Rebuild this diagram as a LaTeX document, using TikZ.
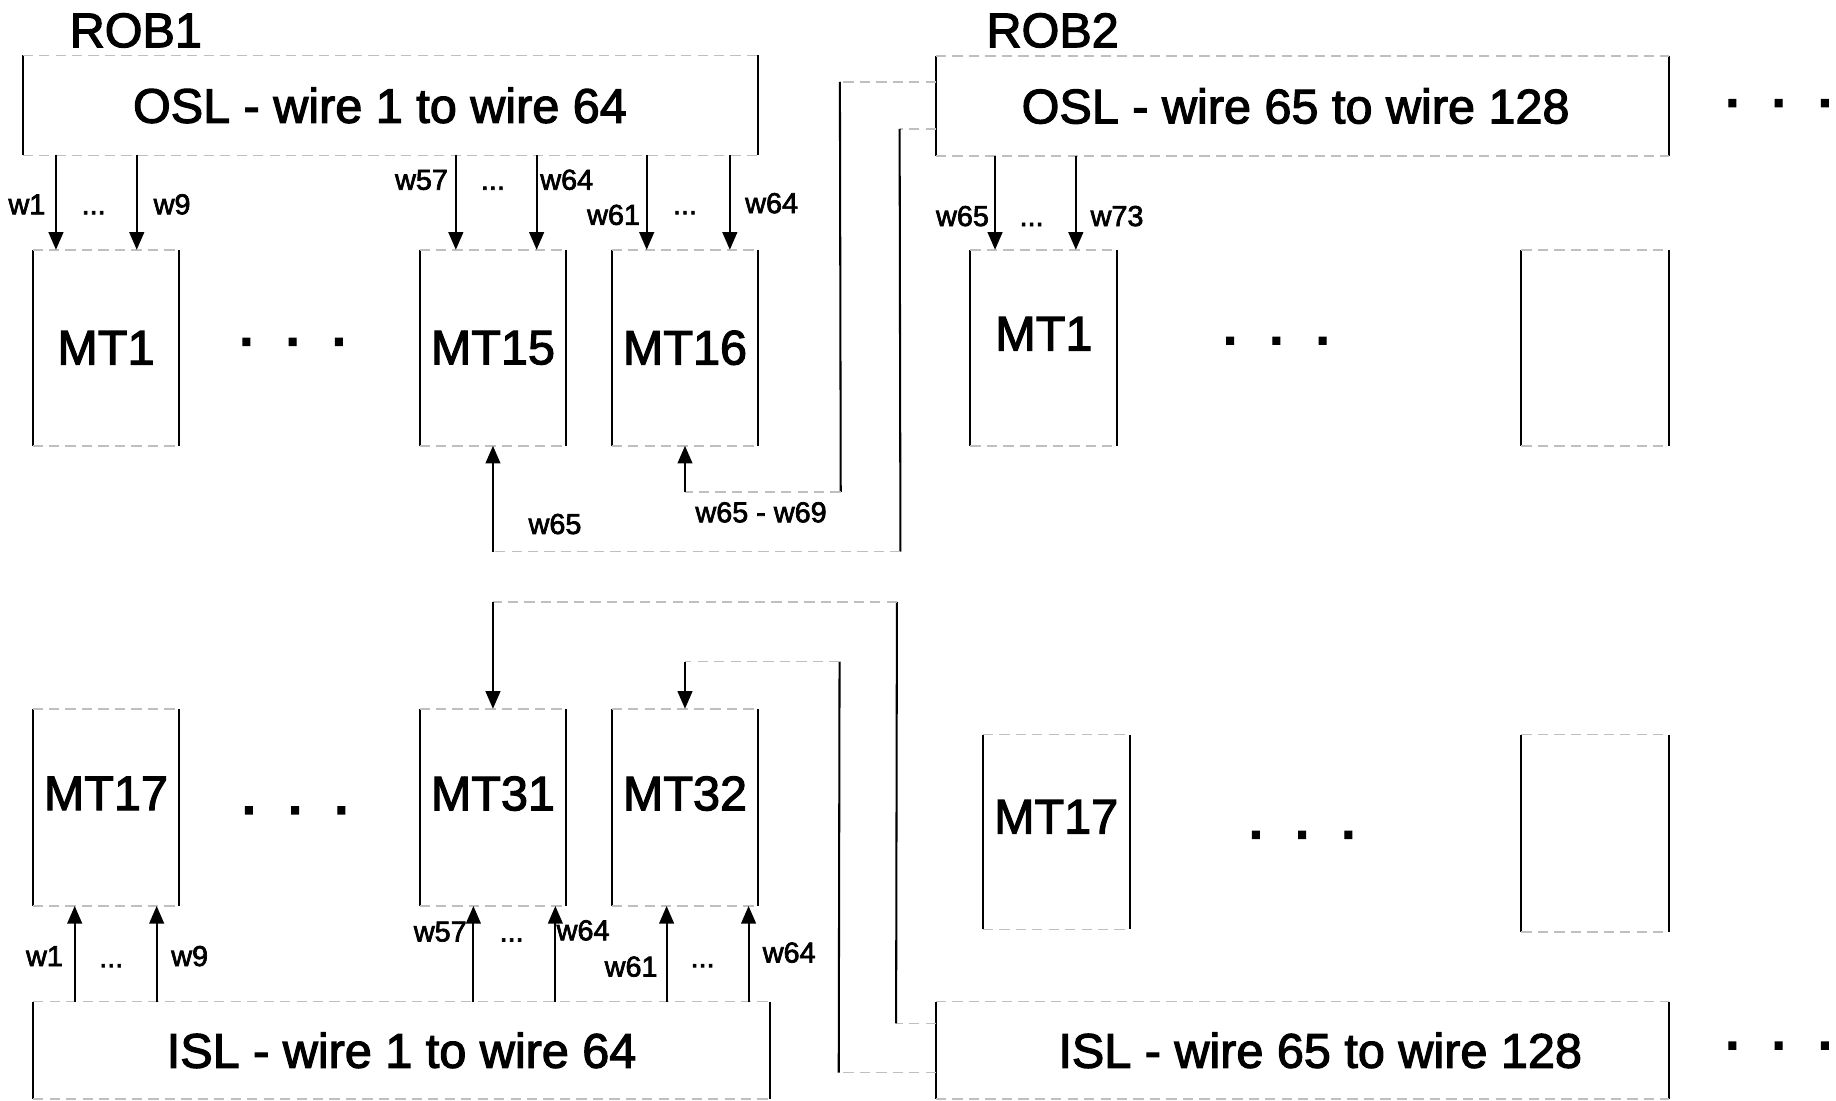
\documentclass[tikz,border=0pt]{standalone}
\usepackage{fontspec}
\setmainfont{Liberation Sans}
\newfontfamily\heavyfont{Liberation Sans}[FakeBold=2.4]
\usetikzlibrary{arrows.meta,calc}
\newcommand\bigf{\heavyfont\fontsize{11.8}{14}\selectfont}
\newcommand\smallf{\heavyfont\fontsize{7}{8.4}\selectfont}
\begin{document}
\begin{tikzpicture}[
  side/.style={draw=black, line width=0.5pt},
  faint/.style={draw=black!25, line width=0.4pt, dash pattern=on 2.5pt off 1.5pt},
  arr/.style={draw=black, line width=0.5pt, -{Triangle[length=1.5mm,width=1.25mm]}},
  mtbox/.style={rectangle, inner sep=0pt, minimum width=1.24cm, minimum height=1.66cm, font=\bigf},
  slbox/.style={rectangle, inner sep=0pt, minimum height=0.84cm, font=\bigf},
  big/.style={font=\bigf, inner sep=0pt},
  lbl/.style={font=\smallf, inner sep=0pt, anchor=base},
  dotsn/.style={font=\bigf\bfseries, inner sep=0pt}
]
\useasboundingbox (0,0) rectangle (15.68,-9.40);

% titles
\node[big] (rob1) at (1.16,-0.26) {ROB1};
\node[big] (rob2) at (8.99,-0.26) {ROB2};

% strip layers
\node[slbox, minimum width=6.27cm] (osl1) at (3.335,-0.90) {OSL - wire 1 to wire 64\rule{0.18cm}{0pt}};
\node[slbox, minimum width=6.25cm] (osl2) at (11.125,-0.905) {OSL - wire 65 to wire 128\rule{0.12cm}{0pt}};
\node[slbox, minimum width=6.28cm, minimum height=0.82cm] (isl1) at (3.43,-8.97) {ISL - wire 1 to wire 64};
\node[slbox, minimum width=6.25cm, minimum height=0.82cm] (isl2) at (11.125,-8.97) {\rule{0.30cm}{0pt}ISL - wire 65 to wire 128};

% MT boxes
\node[mtbox] (mt1) at (0.905,-2.97) {MT1};
\node[mtbox] (mt15) at (4.21,-2.97) {MT15};
\node[mtbox] (mt16) at (5.85,-2.97) {MT16};
\node[mtbox, minimum height=1.67cm, text depth=0.24cm] (mt17) at (0.905,-6.895) {MT17};
\node[mtbox, minimum height=1.67cm, text depth=0.24cm] (mt31) at (4.21,-6.895) {MT31};
\node[mtbox, minimum height=1.67cm, text depth=0.24cm] (mt32) at (5.85,-6.895) {MT32};
\node[mtbox, text depth=0.24cm] (mt1b) at (8.915,-2.97) {MT1};
\node[mtbox, minimum width=1.25cm] (ea) at (13.625,-2.97) {};
\node[mtbox, minimum height=1.65cm, text depth=0.26cm] (mt17b) at (9.02,-7.105) {MT17};
\node[mtbox, minimum width=1.25cm, minimum height=1.67cm] (eb) at (13.625,-7.115) {};

\foreach \n in {osl1,osl2,isl1,isl2,mt1,mt15,mt16,mt17,mt31,mt32,mt1b,ea,mt17b,eb}{
  \draw[side] (\n.north west) -- (\n.south west);
  \draw[side] (\n.north east) -- (\n.south east);
  \draw[faint] (\n.north west) -- (\n.north east);
  \draw[faint] (\n.south west) -- (\n.south east);
}

% ellipsis dots
\node[dotsn] (d1) at (2.50,-2.92) {.\hspace{0.28cm}.\hspace{0.28cm}.};
\node[dotsn] (d2) at (2.52,-6.92) {.\hspace{0.28cm}.\hspace{0.28cm}.};
\node[dotsn] (d3) at (10.90,-2.91) {.\hspace{0.28cm}.\hspace{0.28cm}.};
\node[dotsn] (d4) at (11.12,-7.13) {.\hspace{0.28cm}.\hspace{0.28cm}.};
\node[dotsn] (d5) at (15.19,-0.88) {.\hspace{0.28cm}.\hspace{0.28cm}.};
\node[dotsn] (d6) at (15.19,-8.93) {.\hspace{0.28cm}.\hspace{0.28cm}.};

% downward wires from OSL
\foreach \b/\o/\s in {mt1/0.20/osl1, mt1/0.89/osl1, mt15/0.31/osl1, mt15/1.00/osl1,
                      mt16/0.30/osl1, mt16/1.01/osl1, mt1b/0.21/osl2, mt1b/0.90/osl2}{
  \coordinate (t) at ($(\b.north west)+(\o,0)$);
  \draw[arr] (t |- \s.south) -- (t);
}
% upward wires from ISL
\foreach \b/\o in {mt17/0.36, mt17/1.06, mt31/0.46, mt31/1.16, mt32/0.47, mt32/1.17}{
  \coordinate (t) at ($(\b.south west)+(\o,0)$);
  \draw[arr] (t |- isl1.north) -- (t);
}

% OSL2 -> MT15
\coordinate (c1) at ($(osl2.west)+(0,-0.195)$);
\coordinate (c1a) at ($(c1)+(-0.31,0)$);
\coordinate (c1b) at (7.69,-4.71);
\draw[faint] (c1) -- (c1a);
\draw[side] (c1a) -- (c1b);
\draw[faint] (c1b) -- (c1b -| mt15.south);
\draw[arr] (c1b -| mt15.south) -- (mt15.south);

% OSL2 -> MT16
\coordinate (e1) at ($(osl2.west)+(0,0.205)$);
\coordinate (e1a) at ($(e1)+(-0.82,0)$);
\coordinate (e1b) at (7.18,-4.20);
\draw[faint] (e1) -- (e1a);
\draw[side] (e1a) -- (e1b);
\draw[faint] (e1b) -- (e1b -| mt16.south);
\draw[arr] (e1b -| mt16.south) -- (mt16.south);

% ISL2 -> MT31
\coordinate (a1) at ($(isl2.west)+(0,0.23)$);
\coordinate (a1a) at ($(a1)+(-0.34,0)$);
\coordinate (a1b) at (7.66,-5.14);
\draw[faint] (a1) -- (a1a);
\draw[side] (a1a) -- (a1b);
\draw[faint] (a1b) -- (a1b -| mt31.north);
\draw[arr] (a1b -| mt31.north) -- (mt31.north);

% ISL2 -> MT32
\coordinate (b1) at ($(isl2.west)+(0,-0.19)$);
\coordinate (b1a) at ($(b1)+(-0.83,0)$);
\coordinate (b1b) at (7.17,-5.65);
\draw[faint] (b1) -- (b1a);
\draw[side] (b1a) -- (b1b);
\draw[faint] (b1b) -- (b1b -| mt32.north);
\draw[arr] (b1b -| mt32.north) -- (mt32.north);

% wire labels
\node[lbl] at (0.23,-1.83) {w1};
\node[lbl] at (0.80,-1.83) {...};
\node[lbl] at (1.47,-1.83) {w9};
\node[lbl] at (3.60,-1.62) {w57};
\node[lbl] at (4.21,-1.62) {...};
\node[lbl] at (4.84,-1.62) {w64};
\node[lbl] at (5.24,-1.92) {w61};
\node[lbl] at (5.85,-1.83) {...};
\node[lbl] at (6.59,-1.82) {w64};
\node[lbl] at (4.74,-4.56) {w65};
\node[lbl] at (6.50,-4.46) {w65 - w69};
\node[lbl] at (8.22,-1.93) {w65};
\node[lbl] at (8.81,-1.93) {...};
\node[lbl] at (9.54,-1.93) {w73};
\node[lbl] at (0.38,-8.25) {w1};
\node[lbl] at (0.95,-8.26) {...};
\node[lbl] at (1.62,-8.25) {w9};
\node[lbl] at (3.76,-8.04) {w57};
\node[lbl] at (4.37,-8.04) {...};
\node[lbl] at (4.98,-8.03) {w64};
\node[lbl] at (5.39,-8.34) {w61};
\node[lbl] at (6.00,-8.26) {...};
\node[lbl] at (6.74,-8.22) {w64};
\end{tikzpicture}
\end{document}
